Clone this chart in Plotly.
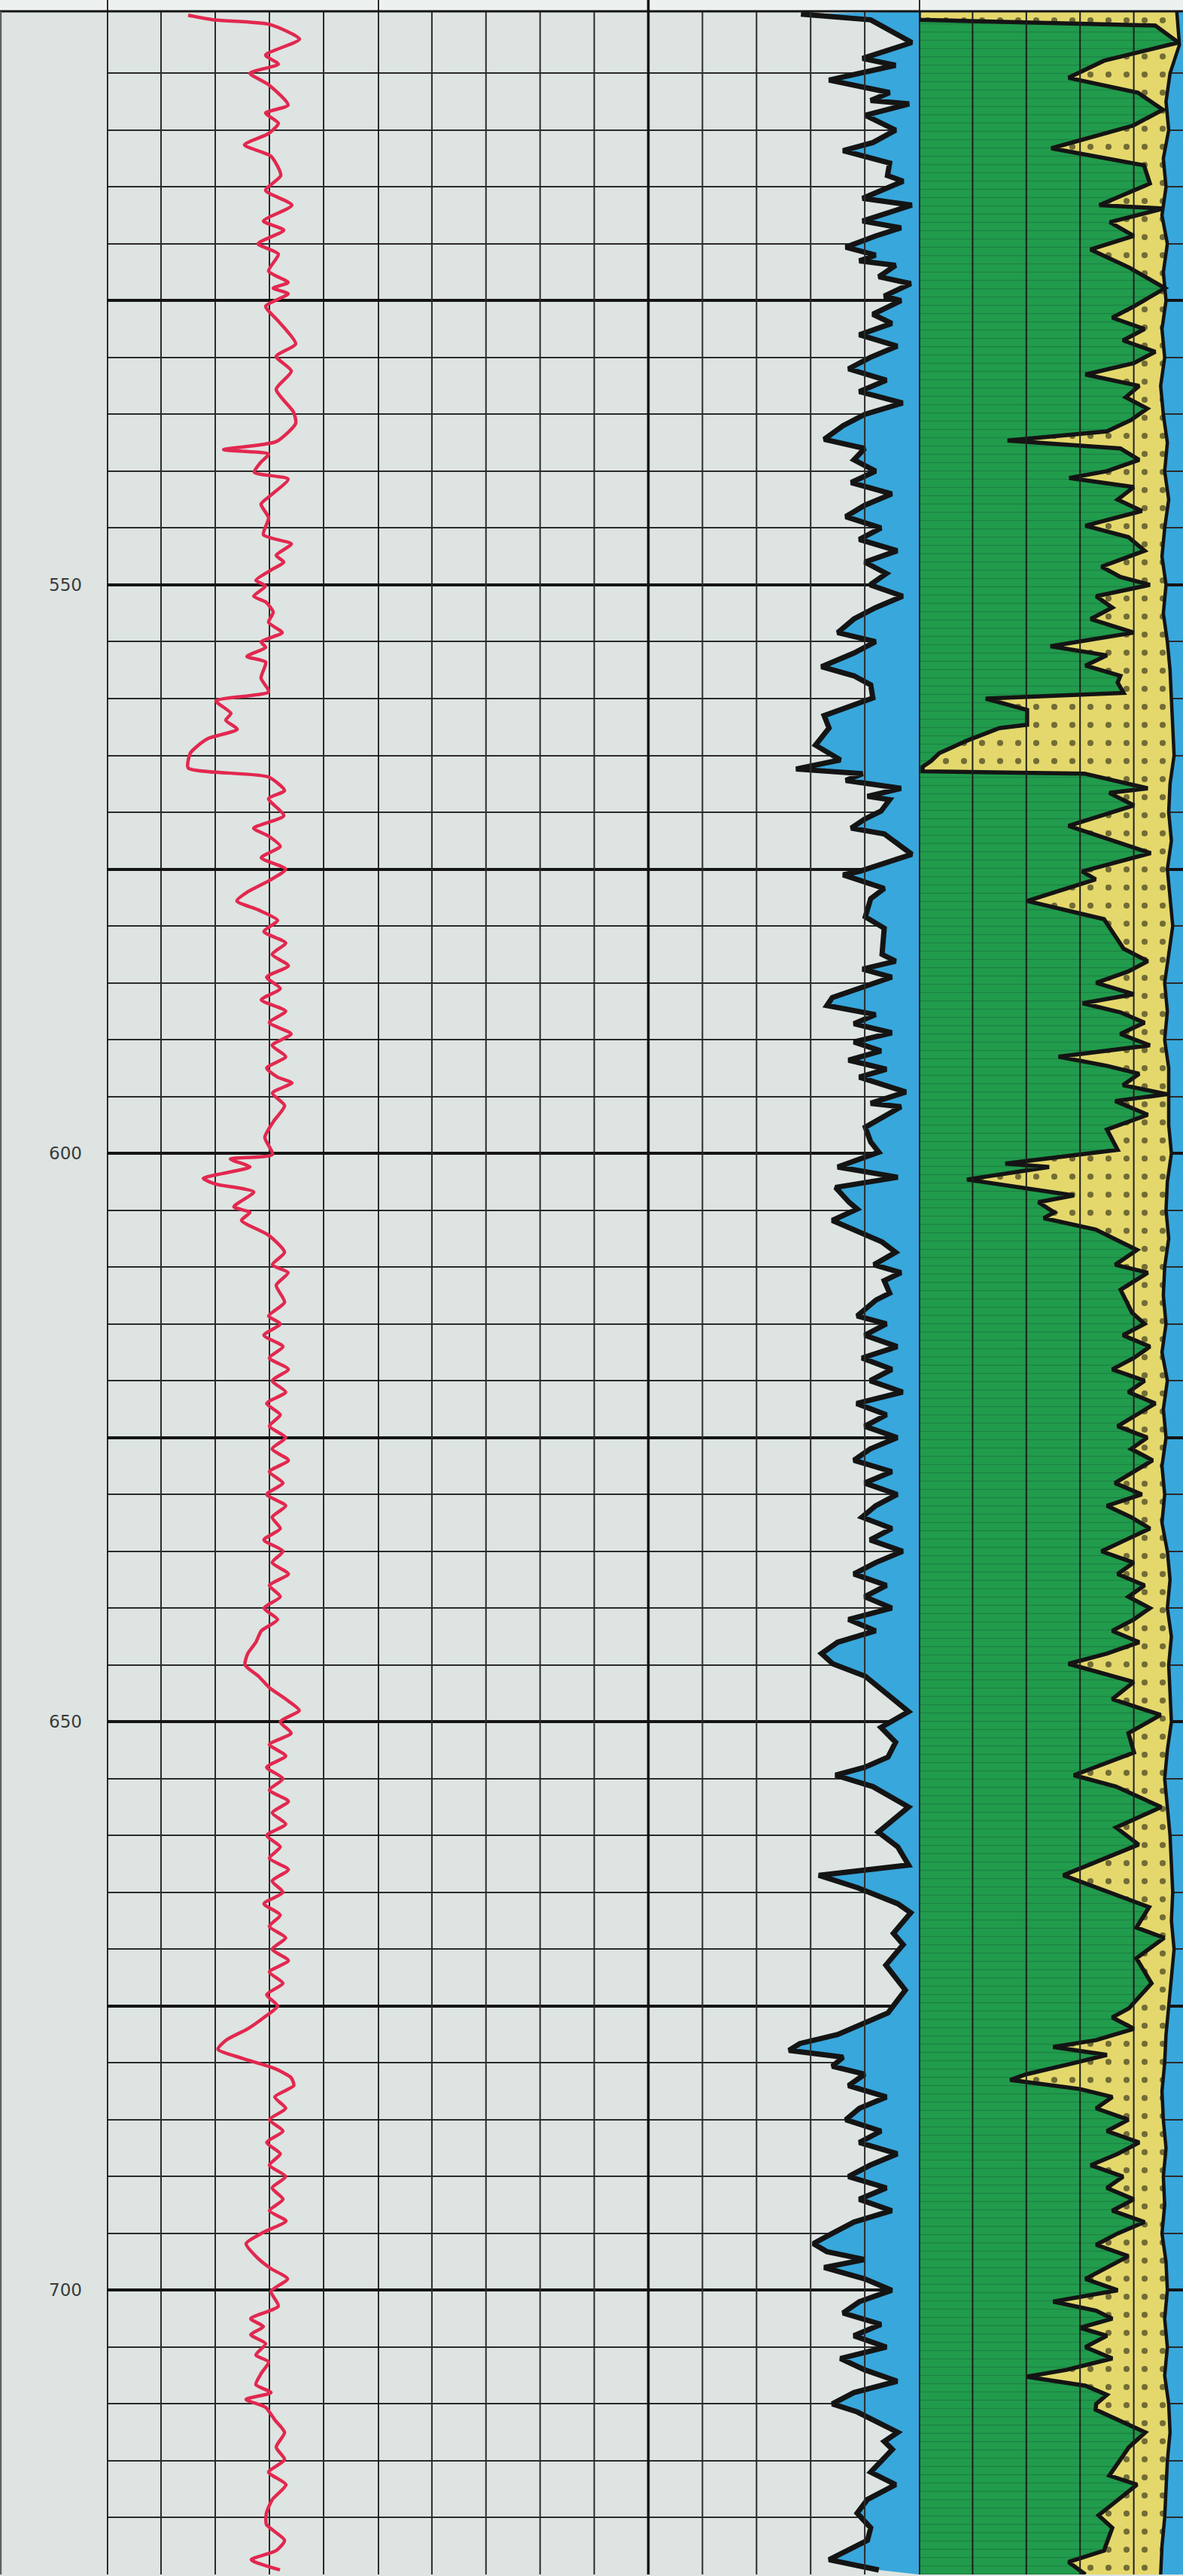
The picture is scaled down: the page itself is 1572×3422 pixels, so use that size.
import plotly.graph_objects as go

# ---------------- data (depth, value) ----------------
# Track 1: red curve (0-100 track units)
GR = [(499.9, 30.0), (500.3, 39.2), (500.7, 60.0), (502.0, 71.1), (503.4, 58.6), (504.2, 63.3), (505.0, 52.8),
      (506.0, 59.7), (507.8, 66.9), (508.5, 58.6), (509.4, 63.3), (510.3, 59.7), (511.3, 50.8), (512.3, 60.6),
      (514.0, 64.2), (515.3, 58.6), (516.6, 68.3), (518.0, 57.8), (518.8, 65.3), (520.0, 55.8), (520.9, 63.3),
      (522.4, 59.7), (523.4, 66.9), (523.9, 61.4), (524.4, 66.9), (525.5, 58.6), (526.8, 63.3), (528.8, 69.7),
      (529.9, 62.5), (531.2, 68.1), (532.8, 62.5), (534.8, 68.9), (535.8, 69.7), (537.4, 62.5), (538.1, 43.1),
      (538.5, 59.7), (539.2, 56.9), (540.1, 54.4), (540.7, 66.9), (542.1, 60.6), (542.9, 56.9), (544.1, 59.7),
      (545.6, 57.8), (546.4, 68.1), (547.4, 62.5), (548.0, 65.3), (548.7, 60.6), (549.6, 55.0), (550.1, 58.6),
      (551.0, 54.2), (551.5, 58.6), (552.4, 61.4), (553.3, 59.7), (554.2, 64.7), (555.0, 56.9), (555.5, 58.6),
      (556.3, 51.7), (556.8, 58.6), (558.2, 56.9), (559.4, 59.7), (560.2, 40.3), (561.3, 45.8), (561.9, 43.9),
      (562.7, 48.1), (563.5, 37.5), (564.3, 32.8), (564.8, 30.8), (566.1, 30.0), (566.9, 59.7), (568.1, 65.6),
      (568.8, 59.7), (570.3, 65.3), (571.4, 54.2), (572.1, 59.7), (573.0, 64), (574.0, 57), (575.0, 66),
      (576.0, 60), (577.0, 52), (577.8, 48), (578.6, 56), (579.5, 63), (580.5, 58), (581.5, 66), (582.5, 61),
      (583.5, 67), (584.5, 59), (585.5, 64), (586.5, 57), (587.5, 66), (588.5, 60), (589.5, 68), (590.5, 61),
      (591.5, 66), (592.5, 59), (593.3, 63), (593.8, 68.3), (594.7, 61.1), (595.8, 65.6), (597.2, 61.5),
      (598.6, 58.3), (600.1, 61.1), (600.5, 45.6), (601.2, 52.8), (602.2, 35.6), (602.7, 40.0), (603.4, 54.2),
      (604.7, 46.9), (605.2, 52.8), (605.9, 49.7), (607.2, 59.7), (608.7, 65.6), (609.8, 61.1), (610.5, 66.9),
      (611.6, 62.5), (613.1, 65.6), (614.3, 59.7), (615, 64), (616, 58), (617, 65), (618, 60), (619, 67),
      (620, 61), (621, 66), (622, 59), (623, 64), (624, 60), (625, 66), (626, 61), (627, 67), (628, 60),
      (629, 65), (630, 59), (631, 66), (632, 61), (633, 64), (634, 58), (635, 65), (636, 61), (637, 67),
      (638, 60), (639, 64), (640, 58), (641, 63), (642, 57), (643, 55), (644, 52), (645, 51), (646, 56),
      (647, 60), (648, 66), (649, 71), (650, 64), (651, 68), (652, 60), (653, 66), (654, 59), (655, 65),
      (656, 60), (657, 67), (658, 61), (659, 66), (660, 59), (661, 64), (662, 60), (663, 67), (664, 61),
      (665, 65), (666, 58), (667, 64), (668, 60), (669, 66), (670, 61), (671, 67), (672, 60), (673, 65),
      (674, 59), (675, 63), (676, 58), (677, 52), (678, 44), (678.8, 41), (679.6, 50), (680.5, 62), (681.3, 68),
      (682, 69), (683, 62), (684, 66), (685, 60), (686, 65), (687, 59), (688, 64), (689, 60), (690, 66),
      (691, 61), (692, 65), (693, 60), (693.9, 66.1), (694.9, 57.8), (695.9, 51.4), (697.2, 55.8), (698.1, 60.6),
      (699.0, 66.7), (700.1, 60.6), (701.4, 63.3), (702.5, 53.1), (703.2, 57.8), (703.9, 53.1), (704.7, 58.6),
      (705.7, 55.0), (706.3, 59.7), (707.3, 57.0), (708.3, 55.0), (709.0, 60.6), (709.6, 51.4), (710.3, 58.6),
      (711.4, 62.0), (712.5, 65.6), (713.8, 62.5), (714.9, 65.6), (716.0, 59.7), (717.1, 66.1), (718.4, 61.1),
      (719.6, 58.9), (720.6, 58.9), (722.0, 65.6), (722.9, 62.5), (723.7, 53.3), (724.6, 63.9)]

# Track 2: black curve with blue fill to the right edge (0-100 track units)
DT = [(499.8, 78.2), (500.3, 91.1), (502.3, 98.7), (503.7, 89.6), (504.3, 95.7), (505.6, 83.4), (506.7, 94.6),
      (507.4, 91.1), (507.7, 98.2), (508.7, 90.1), (510.0, 95.7), (511.1, 91.5), (511.8, 86.0), (512.9, 94.6),
      (514.0, 94.2), (514.5, 97.1), (516.0, 89.6), (516.6, 98.7), (518.0, 89.6), (518.6, 96.7), (519.3, 92.1),
      (520.3, 86.5), (521.0, 92.0), (521.5, 89.0), (521.9, 95.7), (522.9, 92.6), (523.5, 98.5), (524.6, 93.6),
      (525.0, 96.7), (526.2, 91.5), (527, 95), (528, 89), (529, 96), (530, 91), (531, 87), (532, 94), (533, 89),
      (534, 97), (535, 90), (536, 86), (537.2, 82.5), (538, 90), (539, 88), (540, 92), (541, 87.5), (542, 95),
      (543, 90), (544, 86.5), (545, 93), (546, 89), (547, 96), (548, 90), (549, 94), (550, 91), (551, 97),
      (552, 92), (553, 88), (554.2, 85), (555, 92), (556, 88), (557.2, 82), (558, 88), (558.8, 91.1),
      (559.95, 91.5), (561.5, 82.5), (562.6, 83.4), (564.1, 80.9), (565.4, 85.5), (566.2, 77.3), (566.6, 89.6),
      (567.2, 86.5), (567.9, 96.7), (568.6, 90.5), (568.9, 94.6), (569.9, 93.0), (570.6, 90.0), (571.4, 87.5),
      (571.9, 93.6), (573.7, 98.7), (575.2, 89.0), (575.5, 86.0), (576.7, 93.6), (577.6, 91.1), (579.2, 90.1),
      (580.2, 93.6), (582.5, 93.2), (583.1, 95.7), (583.8, 89.6), (584.5, 95), (585.3, 90), (586.3, 84),
      (587.0, 83), (587.8, 92), (588.6, 88), (589.4, 95), (590.2, 88), (591.0, 93), (591.8, 87), (592.6, 94),
      (593.3, 89), (594.6, 97.6), (595.6, 91.1), (595.9, 96.7), (597.7, 90.1), (599.0, 91.1), (599.9, 92.6),
      (601.2, 85.0), (602.1, 96.1), (603.0, 84.6), (604.3, 87.1), (604.9, 88.6), (605.9, 84.0), (607.0, 89.6),
      (607.8, 93.2), (608.7, 95.7), (609.8, 91.7), (610.5, 96.7), (611.2, 93.6), (612.3, 94.6), (612.9, 92.1),
      (614.3, 88.6), (615, 94), (616, 90), (617, 96), (618, 89.5), (619, 95), (620, 91), (621, 97), (622, 88.5),
      (623, 94), (624, 90), (625, 96), (626, 91), (627, 88), (628, 95), (629, 90), (630, 96), (631, 92),
      (632, 89.5), (633, 95), (634, 91), (635, 97), (636, 92), (637, 88), (638, 94), (639, 90), (640, 95),
      (641, 87), (642, 92), (643, 85), (644, 82), (644.9, 84.1), (646.0, 90.1), (647.5, 94), (649.1, 98.1),
      (650.5, 93), (651.8, 95.7), (653.1, 94.3), (654.0, 90), (654.7, 84.6), (655.7, 91.5), (657.5, 98.1),
      (659.7, 92.5), (661.0, 96.1), (662.6, 98.1), (663.5, 81.5), (664.6, 88.7), (666.0, 96.1), (666.8, 98.5),
      (668.6, 95.3), (669.6, 97.1), (671.4, 93.9), (673.6, 97.5), (675.6, 94.3), (676.5, 90), (677.5, 85),
      (678.3, 78), (678.9, 76), (679.5, 86), (680.3, 84), (681, 90), (682, 87), (683, 94), (684, 89),
      (685, 86.5), (686, 93), (687, 89), (688, 96), (689, 91), (690, 87), (691, 94), (692, 89), (693, 95),
      (694, 88), (695, 84), (695.9, 80.5), (696.6, 83), (697.3, 90), (698, 82.5), (699, 90), (700, 95),
      (701, 89), (702, 86), (703, 93), (704, 88), (705, 94), (706, 85.5), (707, 90), (708, 96), (709, 88),
      (710, 84), (710.7, 88.6), (712.5, 96.1), (713.3, 93.6), (714.0, 95.1), (716.0, 91.1), (717.1, 95.7),
      (718.4, 90.5), (719.6, 88.6), (720.9, 91.1), (722.0, 90.5), (723.7, 83.4), (724.6, 92.6)]

# Track 3: shale (green) / sand (yellow) boundary, percent of track
VSH = [(499.55, 0), (500.3, 0), (500.8, 88), (502.3, 96.6), (503.9, 68.9), (505.4, 55.7), (506.7, 81.5),
       (508.2, 90.8), (509.6, 79.8), (511.6, 49.3), (513.1, 83.8), (514.7, 86.0), (516.6, 67.2), (516.9, 91.0),
       (518.1, 71.1), (519.3, 80), (520.5, 63.9), (522.1, 78.4), (523.9, 91.6), (525.5, 80.1), (526.5, 72),
       (527.5, 84), (528.5, 76), (529.5, 88), (530.5, 80), (531.5, 62), (532.5, 82), (533.5, 77), (534.5, 85),
       (535.5, 79), (536.5, 70), (537.3, 33), (538, 75), (539, 82), (540, 70), (540.6, 56), (541.4, 80),
       (542.5, 74), (543.5, 83), (544.8, 62), (545.8, 78), (547, 84), (548.4, 68), (549.3, 75), (550, 86),
       (551, 66), (552, 72), (553, 64), (554.2, 80), (555.4, 49), (556.2, 70), (557.1, 62), (558, 75),
       (558.6, 74.0), (559.5, 76.2), (560.0, 24.9), (561.0, 40.3), (562.3, 40.3), (562.6, 30.0), (563.7, 17.9),
       (564.8, 7.6), (565.5, 4.5), (566.0, 1.4), (566.4, 1.4), (566.6, 61.6), (567.9, 85.2), (568.3, 70.9),
       (569.4, 80.1), (571.2, 55.7), (573.6, 86.3), (575.2, 60.8), (575.9, 65.8), (577.8, 40.3), (579.4, 68.9),
       (582.0, 76.2), (583.1, 85.2), (584, 78), (585, 66), (586, 80), (586.8, 61), (587.6, 75), (588.5, 84),
       (589.5, 75), (590.5, 86), (591.5, 52), (592.3, 70), (593, 82), (594, 76), (594.8, 92.4), (595.4, 73.1),
       (596.6, 85.2), (597.9, 70.0), (599.7, 74.0), (600.9, 32.2), (601.2, 48.5), (602.3, 17.9), (603.7, 57.7),
       (604.3, 44.5), (605.2, 50.4), (605.7, 46.5), (606.7, 65.8), (608.5, 81.2), (609.8, 73.1), (610.5, 85.2),
       (612.0, 75.1), (614.0, 79.3), (615, 84), (616, 76), (617, 86), (618, 80), (619, 72), (620, 84), (621, 78),
       (622, 88), (623, 81), (624, 74), (625, 85), (626, 79), (627, 87), (628, 80), (629, 73), (630, 83),
       (631, 70), (632, 79), (633, 86), (634, 77), (635, 68), (636, 80), (637, 74), (638, 84), (639, 78),
       (640, 86), (641, 80), (642, 72), (643, 82), (644, 70), (644.9, 55.7), (646.5, 80), (648, 72),
       (649.4, 90.0), (651, 78), (652.7, 80.1), (654.7, 57.7), (655.7, 73.4), (657.5, 90.2), (659.3, 73.4),
       (660.8, 81.8), (663.5, 53.8), (666.3, 85.7), (668.1, 81.0), (669.0, 91.3), (670.8, 81.0), (673.0, 86.6),
       (675.2, 78.2), (676, 72), (677, 80), (678, 66), (678.6, 50), (679.3, 70), (680, 58), (681, 40),
       (681.5, 34), (682.3, 60), (683, 72), (684, 66), (685, 78), (686, 70), (687, 82), (688, 74), (689, 64),
       (690, 76), (691, 70), (692, 80), (693, 72), (694, 84), (695, 74), (696, 66), (697, 78), (698, 70),
       (699, 62), (700, 74), (701, 50), (701.8, 66), (702.5, 72), (703.3, 60), (704, 70), (705, 62), (706, 72),
       (707, 55), (707.6, 40), (708.4, 62), (709.2, 70), (710, 66), (710.5, 65.8), (712.5, 84.3), (713.8, 78.2),
       (716.3, 70.9), (717.1, 81.2), (719.8, 66.9), (720.9, 72.0), (722.9, 68.9), (723.9, 55.7), (725, 62)]

# Track 3: right edge of the sand (yellow) band
SAND_R = [(499.55, 96), (502.5, 97), (505, 93.5), (507.5, 92), (510, 93), (512.5, 91), (515, 92), (517.5, 90.5),
          (520, 92.5), (522.5, 91), (525, 92), (527.5, 90.5), (530, 91.5), (532.5, 90), (535, 91), (537.5, 92.5),
          (540, 91.5), (542.5, 93), (545, 91.5), (547.5, 90.5), (550, 92), (552.5, 91), (555, 92.5),
          (557.5, 93.5), (560, 94), (562.5, 94.5), (565, 95), (567.5, 93.5), (570, 93), (572.5, 94), (575, 92.5),
          (577.5, 93.5), (580, 94.5), (582.5, 93), (585, 91.5), (587.5, 92.5), (590, 91.5), (592.5, 93),
          (595, 93), (597.5, 93), (600, 94), (602.5, 92.5), (605, 92), (607.5, 93), (610, 91.5), (612.5, 91),
          (615, 92), (617.5, 90.5), (620, 92.5), (622.5, 91), (625, 92), (627.5, 90.5), (630, 91.5),
          (632.5, 90.5), (635, 92.5), (637.5, 93.5), (640, 92.5), (642.5, 94), (645, 93), (647.5, 93.5),
          (650, 94), (652.5, 92.5), (655, 91.5), (657.5, 92.5), (660, 93.5), (662.5, 94), (665, 94.5),
          (667.5, 94), (670, 95), (672.5, 94), (675, 93), (677.5, 92), (680, 91.5), (682.5, 90.5), (685, 91),
          (687.5, 92), (690, 91), (692.5, 91.5), (695, 90.5), (697.5, 92), (700, 92.5), (702.5, 91.5),
          (705, 92.5), (707.5, 91.5), (710, 93), (712.5, 93.5), (715, 92.5), (717.5, 92), (720, 91.5),
          (722.5, 90.5), (725, 90)]

DEPTH_TOP, DEPTH_BOT = 499.55, 725.0
depth_major = [525, 550, 575, 600, 625, 650, 675, 700]
depth_labels = ["", "550", "", "600", "", "650", "", "700"]
depth_minor = [d for d in range(505, 725, 5) if d % 25 != 0]
grid_t1 = [20, 40, 60, 80]
grid_t2 = [10, 20, 30, 40, 60, 70, 80, 90]
grid_t3 = [20, 40, 60, 80]
TRACK3_MAX = 98.32

# ---------------- styling ----------------
BG = "#dde4e1"
HEAD = "#edf1ef"
RED = "#e2284f"
BLUE = "#38a7dc"
GREEN = "#219b4c"
YELLOW = "#e4d86c"
INK = "#141414"

W, H = 1572, 3422
L, T, B = 142, 15, 2
PW = W - L
d1 = [0, 360 / PW]
d2 = [360 / PW, 1079 / PW]
d3 = [1079 / PW, 1.0]


def split(pairs):
    return [p[0] for p in pairs], [p[1] for p in pairs]


gr_d, gr_v = split(GR)
dt_d, dt_v = split(DT)
vsh_d, vsh_v = split(VSH)
sr_d, sr_v = split(SAND_R)

fig = go.Figure()

fig.add_trace(go.Scatter(x=gr_v, y=gr_d, xaxis="x", yaxis="y", mode="lines",
                         line=dict(color=RED, width=4.5, shape="spline", smoothing=0.6),
                         hoverinfo="skip"))

fig.add_trace(go.Scatter(x=[100, 100], y=[DEPTH_TOP, DEPTH_BOT], xaxis="x2", yaxis="y", mode="lines",
                         line=dict(width=0, color=BLUE), hoverinfo="skip"))
fig.add_trace(go.Scatter(x=dt_v, y=dt_d, xaxis="x2", yaxis="y", mode="lines", fill="tonextx",
                         fillcolor=BLUE, line=dict(color=INK, width=7), hoverinfo="skip"))

fig.add_trace(go.Scatter(x=vsh_v, y=vsh_d, xaxis="x3", yaxis="y", mode="lines", fill="tozerox",
                         fillcolor=GREEN,
                         fillpattern=dict(shape="-", fgcolor="#186a3b", size=11, solidity=0.12,
                                          fillmode="overlay"),
                         line=dict(color=INK, width=5.5), hoverinfo="skip"))
fig.add_trace(go.Scatter(x=sr_v, y=sr_d, xaxis="x3", yaxis="y", mode="lines", fill="tonextx",
                         fillcolor=YELLOW,
                         fillpattern=dict(shape=".", fgcolor="#000000", size=24, solidity=0.09,
                                          fillmode="overlay"),
                         line=dict(color=INK, width=4.5), hoverinfo="skip"))

shapes = []
# blue background of the right-most strip of track 3
shapes.append(dict(type="rect", xref="x3 domain", yref="paper", x0=0, x1=1, y0=0, y1=1,
                   fillcolor=BLUE, line=dict(width=0), layer="between"))
# header strip
top = 1 + (T + 2) / (H - T - B)
shapes.append(dict(type="rect", xref="paper", yref="paper", x0=-L / PW, x1=1.01, y0=1, y1=top,
                   fillcolor=HEAD, line=dict(width=0), layer="below"))
# thin vertical grid lines drawn above fills in tracks 2 and 3
for g in grid_t2:
    shapes.append(dict(type="line", xref="x2", yref="paper", x0=g, x1=g, y0=0, y1=1,
                       line=dict(color="#2b2b2b", width=2), layer="above"))
for g in grid_t3:
    shapes.append(dict(type="line", xref="x3", yref="paper", x0=g, x1=g, y0=0, y1=1,
                       line=dict(color="#1e1e1e", width=2), layer="above"))
# thick track borders (extend into the header)
for xr, xv in [("x", 0), ("x2", 0), ("x2", 50), ("x3", 0)]:
    shapes.append(dict(type="line", xref=xr, yref="paper", x0=xv, x1=xv, y0=0, y1=top,
                       line=dict(color=INK, width=3.5), layer="above"))
# top border and page left edge
shapes.append(dict(type="line", xref="paper", yref="paper", x0=-L / PW, x1=1.01, y0=1, y1=1,
                   line=dict(color=INK, width=3), layer="above"))
shapes.append(dict(type="line", xref="paper", yref="paper", x0=-L / PW + 0.0008, x1=-L / PW + 0.0008,
                   y0=0, y1=1, line=dict(color="#555555", width=2), layer="above"))

axis_common = dict(showticklabels=False, ticks="", zeroline=False, showline=False, fixedrange=True)
fig.update_layout(
    width=W, height=H,
    margin=dict(l=L, r=0, t=T, b=B, pad=0),
    paper_bgcolor=BG, plot_bgcolor=BG,
    showlegend=False,
    xaxis=dict(domain=d1, range=[0, 100], showgrid=True, tickvals=grid_t1, gridcolor="#2b2b2b",
               gridwidth=2, anchor="y", **axis_common),
    xaxis2=dict(domain=d2, range=[0, 100], showgrid=False, anchor="y", **axis_common),
    xaxis3=dict(domain=d3, range=[0, TRACK3_MAX], showgrid=False, anchor="y", **axis_common),
    yaxis=dict(range=[DEPTH_BOT, DEPTH_TOP], autorange=False, anchor="x", side="left",
               tickmode="array", tickvals=depth_major, ticktext=depth_labels, ticks="",
               showgrid=True, gridcolor="#151515", gridwidth=3.5, zeroline=False, showline=False,
               tickfont=dict(family="DejaVu Sans", size=23, color="#3a3a3a"),
               ticklabelstandoff=32, fixedrange=True,
               minor=dict(tickvals=depth_minor, showgrid=True, gridcolor="#2b2b2b", gridwidth=2,
                          ticks="")),
    shapes=shapes,
)

fig.write_html("out.html", config={"displayModeBar": False},
               post_script="document.body.style.margin='0px';document.body.style.background='%s';" % BG)
